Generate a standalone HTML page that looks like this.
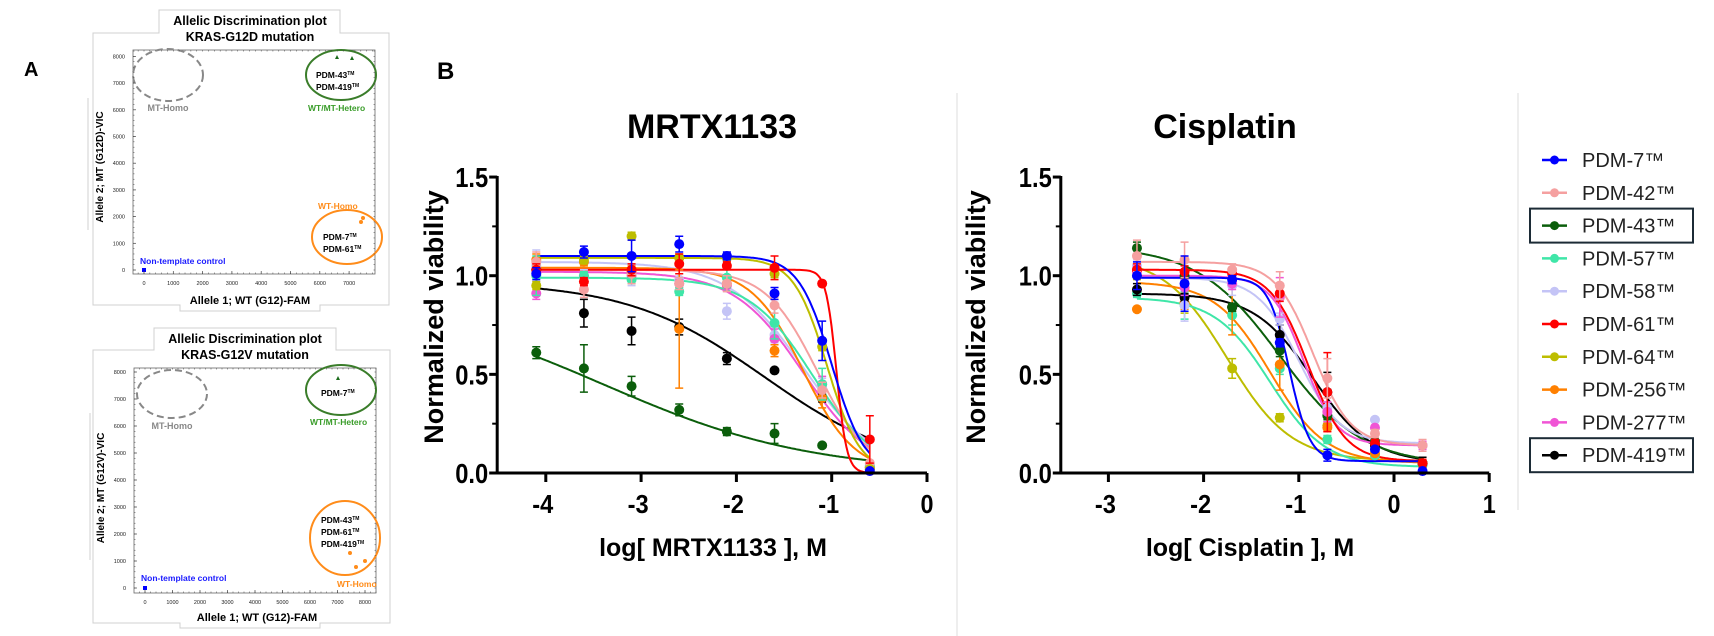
<!DOCTYPE html>
<html><head><meta charset="utf-8">
<style>
html,body{margin:0;padding:0;background:#fff;}
svg{display:block;}
text{font-family:"Liberation Sans",Arial,sans-serif;}
</style></head>
<body>
<svg id="s" width="1714" height="636" viewBox="0 0 1714 636" xmlns="http://www.w3.org/2000/svg">
<rect width="1714" height="636" fill="#fff"/>
<text x="24" y="76" font-size="20" font-weight="bold">A</text>
<text x="437" y="79" font-size="24" font-weight="bold">B</text>

<g font-weight="bold">
<path d="M93,33 H159 V10 H340 V33 H389 V305 H320 V311 H180 V305 H93 Z" fill="none" stroke="#d0d0d0" stroke-width="1"/>
<path d="M88,98 V230" stroke="#d0d0d0" fill="none"/>
<text x="250" y="25" font-size="12.5" text-anchor="middle">Allelic Discrimination plot</text>
<text x="250" y="41" font-size="12.5" text-anchor="middle">KRAS-G12D mutation</text>
<rect x="133" y="50" width="242" height="224" fill="none" stroke="#666" stroke-width="0.8"/>
<text transform="translate(103,167) rotate(-90)" font-size="10" text-anchor="middle">Allele 2; MT (G12D)-VIC</text>
<text x="250" y="304" font-size="11" text-anchor="middle">Allele 1; WT (G12)-FAM</text>
<ellipse cx="168" cy="75" rx="35" ry="26" fill="none" stroke="#888" stroke-width="2" stroke-dasharray="7,4"/>
<text x="168" y="111" font-size="9" fill="#888" text-anchor="middle">MT-Homo</text>
<ellipse cx="341" cy="75" rx="35" ry="25" fill="none" stroke="#3a7d2a" stroke-width="2"/>
<path d="M335,59 l2,-4 l2,4z M350,60 l2,-4 l2,4z" fill="#1a6b1a"/>
<text x="316" y="78" font-size="8.5">PDM-43<tspan font-size="5" dy="-3">TM</tspan></text>
<text x="316" y="90" font-size="8.5">PDM-419<tspan font-size="5" dy="-3">TM</tspan></text>
<text x="308" y="111" font-size="8.5" fill="#3a9d2a">WT/MT-Hetero</text>
<text x="318" y="209" font-size="8.5" fill="#ff8c1a">WT-Homo</text>
<ellipse cx="347" cy="237" rx="35" ry="27" fill="none" stroke="#ff8c1a" stroke-width="2"/>
<circle cx="361" cy="222" r="2" fill="#ff8c1a"/><circle cx="363" cy="218" r="2" fill="#ff8c1a"/>
<text x="323" y="240" font-size="8.5">PDM-7<tspan font-size="5" dy="-3">TM</tspan></text>
<text x="323" y="252" font-size="8.5">PDM-61<tspan font-size="5" dy="-3">TM</tspan></text>
<text x="140" y="264" font-size="8.5" fill="#1a1aff">Non-template control</text>
<rect x="142" y="268" width="4" height="4" fill="#0000ff"/>
</g>
<g id="axA1" font-size="5.5" fill="#222"></g>

<g font-weight="bold">
<path d="M93,350 H154 V328 H336 V350 H390 V623 H320 V628 H180 V623 H93 Z" fill="none" stroke="#d0d0d0" stroke-width="1"/>
<path d="M90,413 V560" stroke="#d0d0d0" fill="none"/>
<text x="245" y="343" font-size="12.5" text-anchor="middle">Allelic Discrimination plot</text>
<text x="245" y="359" font-size="12.5" text-anchor="middle">KRAS-G12V mutation</text>
<rect x="134" y="368" width="242" height="225" fill="none" stroke="#666" stroke-width="0.8"/>
<text transform="translate(104,488) rotate(-90)" font-size="10" text-anchor="middle">Allele 2; MT (G12V)-VIC</text>
<text x="257" y="621" font-size="11" text-anchor="middle">Allele 1; WT (G12)-FAM</text>
<ellipse cx="172" cy="394" rx="35" ry="24" fill="none" stroke="#888" stroke-width="2" stroke-dasharray="7,4"/>
<text x="172" y="429" font-size="9" fill="#888" text-anchor="middle">MT-Homo</text>
<ellipse cx="341" cy="390" rx="35" ry="25" fill="none" stroke="#3a7d2a" stroke-width="2"/>
<path d="M336,380 l2,-4 l2,4z" fill="#1a6b1a"/>
<text x="321" y="396" font-size="8.5">PDM-7<tspan font-size="5" dy="-3">TM</tspan></text>
<text x="310" y="425" font-size="8.5" fill="#3a9d2a">WT/MT-Hetero</text>
<ellipse cx="345" cy="538" rx="35" ry="37" fill="none" stroke="#ff8c1a" stroke-width="2"/>
<text x="321" y="523" font-size="8.5">PDM-43<tspan font-size="5" dy="-3">TM</tspan></text>
<text x="321" y="535" font-size="8.5">PDM-61<tspan font-size="5" dy="-3">TM</tspan></text>
<text x="321" y="547" font-size="8.5">PDM-419<tspan font-size="5" dy="-3">TM</tspan></text>
<circle cx="350" cy="553" r="2" fill="#ff8c1a"/><circle cx="356" cy="567" r="2" fill="#ff8c1a"/><circle cx="365" cy="561" r="2" fill="#ff8c1a"/>
<text x="337" y="587" font-size="8.5" fill="#ff8c1a">WT-Homo</text>
<text x="141" y="581" font-size="8.5" fill="#1a1aff">Non-template control</text>
<rect x="143" y="586" width="4" height="4" fill="#0000ff"/>
</g>
<g id="axA2" font-size="5.5" fill="#222"></g>

<line x1="957" y1="93" x2="957" y2="636" stroke="#ddd" stroke-width="1"/>
<line x1="1518" y1="93" x2="1518" y2="510" stroke="#ddd" stroke-width="1"/>

<g font-weight="bold">
<text x="712" y="138" font-size="34" text-anchor="middle">MRTX1133</text>
<text x="1225" y="138" font-size="34" text-anchor="middle">Cisplatin</text>
<text transform="translate(443,317) rotate(-90)" font-size="27" text-anchor="middle">Normalized viability</text>
<text transform="translate(985,317) rotate(-90)" font-size="27" text-anchor="middle">Normalized viability</text>
<text x="713" y="556" font-size="25" text-anchor="middle">log[ MRTX1133 ], M</text>
<text x="1250" y="556" font-size="25" text-anchor="middle">log[ Cisplatin ], M</text>
</g>
<g id="plots"></g>
<g id="legend" font-size="20"></g>
</svg>
<script>
var NS="http://www.w3.org/2000/svg";
function el(p,t,a,txt){var e=document.createElementNS(NS,t);for(var k in a)e.setAttribute(k,a[k]);if(txt!==undefined)e.textContent=txt;p.appendChild(e);return e;}
function axA(g,x0,x1,y0,y1,xs0,xsk,ys0,ysk,n8x){
  var gg=document.getElementById(g);
  for(var v=0;v<=8000;v+=1000){var y=ys0-ysk*v;el(gg,'text',{x:x0-8,y:y+2,'text-anchor':'end'},String(v));el(gg,'line',{x1:x0,x2:x0+3,y1:y,y2:y,stroke:'#444','stroke-width':0.7});}
  for(var v=0;v<=8400;v+=200){var y=ys0-ysk*v;if(y<y0)break;el(gg,'line',{x1:x0,x2:x0+1.5,y1:y,y2:y,stroke:'#444','stroke-width':0.5});el(gg,'line',{x1:x1,x2:x1-1.5,y1:y,y2:y,stroke:'#444','stroke-width':0.5});}
  for(var v=0;v<=n8x;v+=1000){var x=xs0+xsk*v;el(gg,'text',{x:x,y:y1+11,'text-anchor':'middle'},String(v));el(gg,'line',{x1:x,x2:x,y1:y1,y2:y1-3,stroke:'#444','stroke-width':0.7});}
  for(var v=-200;v<=8400;v+=200){var x=xs0+xsk*v;if(x<x0||x>x1)continue;el(gg,'line',{x1:x,x2:x,y1:y1,y2:y1-1.5,stroke:'#444','stroke-width':0.5});el(gg,'line',{x1:x,x2:x,y1:y0,y2:y0+1.5,stroke:'#444','stroke-width':0.5});}
}
axA('axA1',133,375,50,274,144,0.0293,270,0.0267,7000);
axA('axA2',134,376,368,593,145,0.0275,588,0.027,8000);

var C={b:'#0000ff',p42:'#f5a0a0',g:'#0b5e0b',aq:'#3fe6a8',lav:'#c4c4f6',r:'#ff0000',ol:'#bdbd00',or:'#ff8000',mg:'#f055d5',k:'#000000'};
var P=document.getElementById('plots');
function plot(xo,xk,xmin,xmax,ticks,series,xs){
  var Y=function(v){return 473-197.3*v;};var X=function(l){return xo+xk*l;};
  var ax=X(xmin), axR=X(xmax);
  series.forEach(function(s){
    var d='';for(var i=0;i<=200;i++){var l=xs[0]+(xs[xs.length-1]-xs[0])*i/200;var v=s.c(l);d+=(i?'L':'M')+X(l).toFixed(1)+','+Y(v).toFixed(1);}
    el(P,'path',{d:d,fill:'none',stroke:s.col,'stroke-width':2});
  });
  series.forEach(function(s){
    s.p.forEach(function(v,i){var x=X(xs[i]),y=Y(v),e=(s.e&&s.e[i])||0.02;
      el(P,'path',{d:'M'+x+','+Y(v-e)+'V'+Y(v+e)+'M'+(x-4)+','+Y(v-e)+'h8M'+(x-4)+','+Y(v+e)+'h8',stroke:s.col,'stroke-width':1.5,fill:'none'});
      el(P,'circle',{cx:x,cy:y,r:5,fill:s.col});});
  });
  el(P,'path',{d:'M'+ax+',176V473H'+axR,fill:'none',stroke:'#000','stroke-width':3});
  [0,0.5,1,1.5].forEach(function(v){el(P,'line',{x1:ax-8,x2:ax,y1:Y(v),y2:Y(v),stroke:'#000','stroke-width':3});
    el(P,'text',{x:ax-9,y:Y(v)+10,'text-anchor':'end','font-size':28,'font-weight':'bold',textLength:33,lengthAdjust:'spacingAndGlyphs'},v.toFixed(1));});
  [0.25,0.75,1.25].forEach(function(v){el(P,'line',{x1:ax-5,x2:ax,y1:Y(v),y2:Y(v),stroke:'#000','stroke-width':2});});
  ticks.forEach(function(t){el(P,'line',{x1:X(t),x2:X(t),y1:473,y2:482,stroke:'#000','stroke-width':3});
    el(P,'text',{x:X(t)-(t<0?3:0),y:513,'text-anchor':'middle','font-size':26,'font-weight':'bold',textLength:(t<0?21:13),lengthAdjust:'spacingAndGlyphs'},String(t));});
}
function f(top,bot,ic,h){return function(l){return bot+(top-bot)/(1+Math.pow(10,(l-ic)*h));};}
var xm=[-4.1,-3.6,-3.1,-2.6,-2.1,-1.6,-1.1,-0.6];
plot(927,95.3,-4.51,0,[-4,-3,-2,-1,0],[
 {col:C.g,c:f(0.9,0,-3.4,0.4),p:[0.61,0.53,0.44,0.32,0.21,0.2,0.14,0.03],e:[0.03,0.12,0.05,0.03,0.02,0.05,0.01,0.01]},
 {col:C.k,c:f(0.97,0,-1.7,0.6),p:[1.03,0.81,0.72,0.74,0.58,0.52,0.38,0.02],e:[0.02,0.07,0.07,0.04,0.03,0.01,0.02,0.01]},
 {col:C.lav,c:f(1.07,0,-1.3,1.1),p:[1.05,1.0,1.02,0.98,0.82,0.7,0.43,0.03],e:[0.08,0.03,0.07,0.03,0.04,0.04,0.05,0.01]},
 {col:C.mg,c:f(1.02,0,-1.3,1.2),p:[0.91,1.0,1.0,0.96,0.95,0.68,0.45,0.03],e:[0.03,0.02,0.02,0.02,0.03,0.05,0.04,0.01]},
 {col:C.or,c:f(1.04,0,-1.3,1.6),p:[1.08,1.07,1.02,0.73,0.96,0.62,0.38,0.03],e:[0.03,0.02,0.03,0.3,0.02,0.03,0.05,0.01]},
 {col:C.aq,c:f(0.99,0,-1.2,1.3),p:[1.0,1.0,0.98,0.92,0.99,0.76,0.45,0.04],e:[0.1,0.02,0.02,0.02,0.05,0.08,0.08,0.01]},
 {col:C.p42,c:f(1.03,0,-1.15,1.6),p:[1.07,0.93,1.01,0.96,0.96,0.85,0.42,0.05],e:[0.05,0.04,0.05,0.03,0.04,0.04,0.04,0.01]},
 {col:C.ol,c:f(1.09,0,-1.05,2.5),p:[0.95,1.08,1.2,1.09,1.09,1.01,0.64,0.02],e:[0.02,0.02,0.02,0.02,0.02,0.02,0.02,0.01]},
 {col:C.r,c:f(1.03,0,-0.95,8),p:[1.03,0.97,1.03,1.06,1.05,1.04,0.96,0.17],e:[0.03,0.02,0.03,0.05,0.02,0.06,0.01,0.12]},
 {col:C.b,c:f(1.1,0,-1.0,2.5),p:[1.01,1.12,1.10,1.16,1.10,0.91,0.67,0.01],e:[0.03,0.03,0.08,0.04,0.02,0.03,0.1,0.01]}
],xm);
var xc=[-2.7,-2.2,-1.7,-1.2,-0.7,-0.2,0.3];
plot(1394,95.2,-3.5,1,[-3,-2,-1,0,1],[
 {col:C.ol,c:f(1.1,0.06,-1.75,1.3),p:[1.0,0.86,0.53,0.28,0.24,0.09,0.05],e:[0.02,0.05,0.05,0.02,0.02,0.01,0.01]},
 {col:C.aq,c:f(0.89,0.03,-1.3,1.5),p:[0.91,0.85,0.80,0.53,0.17,0.09,0.04],e:[0.02,0.07,0.05,0.03,0.02,0.01,0.01]},
 {col:C.or,c:f(0.97,0.05,-1.3,1.5),p:[0.83,0.86,0.84,0.55,0.23,0.1,0.05],e:[0.01,0.03,0.14,0.13,0.02,0.01,0.01]},
 {col:C.k,c:f(0.91,0.05,-0.85,1.4),p:[0.93,0.89,0.84,0.7,0.41,0.14,0.05],e:[0.03,0.02,0.02,0.05,0.1,0.02,0.03]},
 {col:C.g,c:f(1.15,0.04,-1.2,1.0),p:[1.14,1.0,0.84,0.62,0.29,0.16,0.05],e:[0.03,0.02,0.02,0.03,0.02,0.01,0.01]},
 {col:C.lav,c:f(0.99,0.15,-1.0,2),p:[1.05,0.85,0.95,0.78,0.33,0.27,0.14],e:[0.03,0.08,0.05,0.03,0.03,0.01,0.01]},
 {col:C.mg,c:f(1.0,0.14,-0.95,2.5),p:[1.02,0.94,0.96,0.89,0.31,0.23,0.14],e:[0.03,0.04,0.03,0.1,0.05,0.01,0.02]},
 {col:C.r,c:f(1.03,0.06,-0.9,2.2),p:[1.03,1.02,1.01,0.91,0.41,0.15,0.05],e:[0.03,0.03,0.03,0.04,0.2,0.02,0.02]},
 {col:C.p42,c:f(1.07,0.14,-0.85,2.2),p:[1.1,1.08,1.03,0.95,0.48,0.2,0.14],e:[0.08,0.09,0.03,0.07,0.1,0.02,0.03]},
 {col:C.b,c:f(0.99,0.06,-1.1,4),p:[1.0,0.96,0.98,0.66,0.09,0.12,0.01],e:[0.07,0.14,0.02,0.02,0.03,0.01,0.01]}
],xc);
var L=document.getElementById('legend');
[['PDM-7™',C.b],['PDM-42™',C.p42],['PDM-43™',C.g,1],['PDM-57™',C.aq],['PDM-58™',C.lav],['PDM-61™',C.r],['PDM-64™',C.ol],['PDM-256™',C.or],['PDM-277™',C.mg],['PDM-419™',C.k,1]].forEach(function(it,i){
  var y=160+32.8*i;
  el(L,'line',{x1:1542,x2:1567,y1:y,y2:y,stroke:it[1],'stroke-width':2.5});
  el(L,'circle',{cx:1554.5,cy:y,r:4.5,fill:it[1]});
  el(L,'text',{x:1582,y:y+7,fill:'#222'},it[0]);
  if(it[2])el(L,'rect',{x:1530,y:y-17,width:163,height:34,fill:'none',stroke:'#1c2b36','stroke-width':2});
});
</script>
</body></html>
